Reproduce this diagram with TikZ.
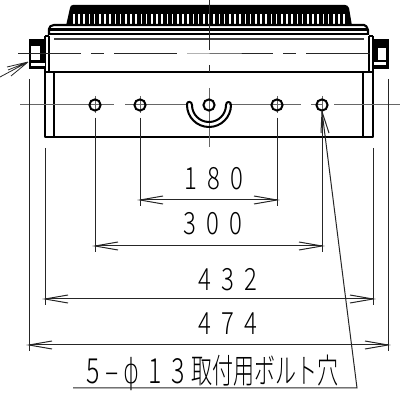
\documentclass[tikz,border=0pt]{standalone}
\usepackage{fontspec}
\setmainfont{Noto Sans CJK JP Light}
\newfontfamily\cjk{Noto Sans CJK JP Light}
\tikzset{
  x=0.75pt,y=-0.75pt,
  thinl/.style={line width=0.75pt,black!85},
  cen/.style={line width=0.75pt,black!60},
  thk/.style={line width=1.6pt,black,line join=round},
  hole/.style={circle,draw=black,line width=1.5pt,minimum size=8.4pt,inner sep=0pt},
  dimn/.style={line width=0.75pt,black!85},
  lbl/.style={inner sep=0pt,font=\fontsize{23}{23}\selectfont},
}
\newcommand{\nar}[1]{\scalebox{0.78}[1]{#1}}
\newcommand{\nbr}[1]{\scalebox{0.72}[1]{#1}}
\newcommand{\dimtext}[3]{\nar{#1}\hspace{7.5pt}\nar{#2}\hspace{7.5pt}\nar{#3}}
\begin{document}
\begin{tikzpicture}
\useasboundingbox (0,0) rectangle (400,395);
% fin block
\fill[black] (66,26) -- (70,8) .. controls (70.5,6) and (71,5) .. (73,5) -- (345,5) .. controls (347,5) and (348,6) .. (349,8) -- (352,26) -- cycle;
\foreach \i in {0,...,52}{\fill[white] ({73+\i*5.2},14) rectangle ({74.6+\i*5.2},25);}
% flange
\draw[thk,fill=white] (49,35) -- (49,29) .. controls (49,27) and (51,25) .. (54,25) -- (364,25) .. controls (366,25) and (367,27) .. (368,30) -- (368,35);
\draw[thk] (50,29.5) -- (367,29.5);
\draw[line width=1.8pt] (48,34) -- (368,34);
\draw[line width=1.5pt,black!75] (54,39) -- (364,39);
% body
\draw[thk] (45,36) -- (49,36) (45,36) -- (45,137) -- (373,137) -- (373,72);
\draw[thk] (49,36) -- (49,72);
\draw[thk] (369,36) -- (369,72) (373,36) -- (373,72) (369,36) -- (373,36);
\draw[thk] (45,72) -- (373,72);
\draw[thk] (54,72) -- (54,137);
\draw[thk] (363,72) -- (363,137);
% left fitting
\fill[black] (29,39) rectangle (45,69);
\fill[white] (31,46) rectangle (40,60);
\fill[white] (31,63) rectangle (45,66);
\fill[black] (40,47) -- (45,47) -- (45,58) -- (42,57) -- cycle;
% right fitting
\fill[black] (373,39) -- (389,39) -- (389,69) -- (373,69) -- cycle;
\fill[white] (378,48) rectangle (386,60);
\fill[black] (374,46) rectangle (378,58);
\fill[white] (374,62) rectangle (386,65);
% centre lines
\draw[thinl] (18,54) -- (81,54) (91,54) -- (104,54) (114,54) -- (177,54) (187,54) -- (209,54) -- (273,54) (283,54) -- (296,54) (306,54) -- (370,54);
\draw[cen] (20,105) -- (114,105) (125,105) -- (188,105) (229,105) -- (301,105) (311,105) -- (323,105) (334,105) -- (400,105);
\draw[thinl] (209,0) -- (209,50) (209,65) -- (209,72);
\draw[cen] (209,88) -- (209,147);
\draw[cen] (95,96) -- (95,113) (140,96) -- (140,113) (277,96) -- (277,113) (322,96) -- (322,113);
% U slot
\draw[line width=1.5pt,line join=round,line cap=round] (187,104) .. controls (187,101) and (192,101) .. (192,105) arc[start angle=180,end angle=0,radius=17] .. controls (226,101) and (231,101) .. (231,105) arc[start angle=0,end angle=180,radius=22] -- cycle;
% holes
\node[hole] (h1) at (95,105) {};
\node[hole] (h2) at (140,105) {};
\node[hole] (h3) at (209,105) {};
\node[hole] (h4) at (277,105) {};
\node[hole] (h5) at (322,105) {};
% dimension end points
\coordinate (a1) at (140,206);\coordinate (a2) at (277,206);
\coordinate (b1) at (95,252);\coordinate (b2) at (322,252);
\coordinate (c1) at (45,305);\coordinate (c2) at (373,305);
\coordinate (d1) at (29,351);\coordinate (d2) at (388,351);
% extension lines
\draw[thinl] (h2.south) ++(0,6) -- (a1);
\draw[thinl] (h4.south) ++(0,6) -- (a2);
\draw[thinl] (h1.south) ++(0,6) -- (b1);
\draw[thinl] (h5.south) ++(0,6) -- (b2);
\draw[thinl] (45,148) -- (c1);
\draw[thinl] (373,148) -- (c2);
\draw[thinl] (29,79) -- (d1);
\draw[thinl] (388,79) -- (d2);
% dimension lines with open arrows
\foreach \l/\r/\y in {140/277/200,95/322/246,45/373/299,29/388/345}{
  \draw[dimn] (\l,\y) -- (\r,\y);
  \draw[dimn] (\l+23,\y-4) -- (\l,\y) -- (\l+23,\y+4);
  \draw[dimn] (\r-23,\y-4) -- (\r,\y) -- (\r-23,\y+4);
}
% labels
\node[lbl] (t180) at (214,179) {\dimtext{1}{8}{0}};
\node[lbl] (t300) at (213,224) {\dimtext{3}{0}{0}};
\node[lbl] (t432) at (228,280) {\dimtext{4}{3}{2}};
\node[lbl] (t474) at (228,324) {\dimtext{4}{7}{4}};
\node[anchor=base west,inner sep=0pt,font=\fontsize{26}{26}\selectfont] (note) at (86,383) {\nbr{5}\hspace{4.5pt}\nbr{–}\hspace{3pt}{\fontspec{DejaVu Sans ExtraLight}\nbr{ϕ}}\hspace{7pt}\nbr{1}\hspace{7pt}\nbr{3}\hspace{5pt}{\cjk\fontsize{21}{21}\selectfont\scalebox{0.75}[1.22]{取付用ボルト穴}}};
% hole leader
\coordinate (lb) at (357,388);
\coordinate (lc) at (73,388);
\draw[thinl] (h5.south) -- (lb) -- (lc);
\draw[thinl] (321,133) -- (h5.south) -- (329,133);
% left leader fan
\coordinate (f0) at (28,62);
\draw[thinl,line width=0.6pt] (f0) -- (0,77) (f0) -- (7,67) (f0) -- (11,76) (f0) -- (8,70);
\end{tikzpicture}
\end{document}
